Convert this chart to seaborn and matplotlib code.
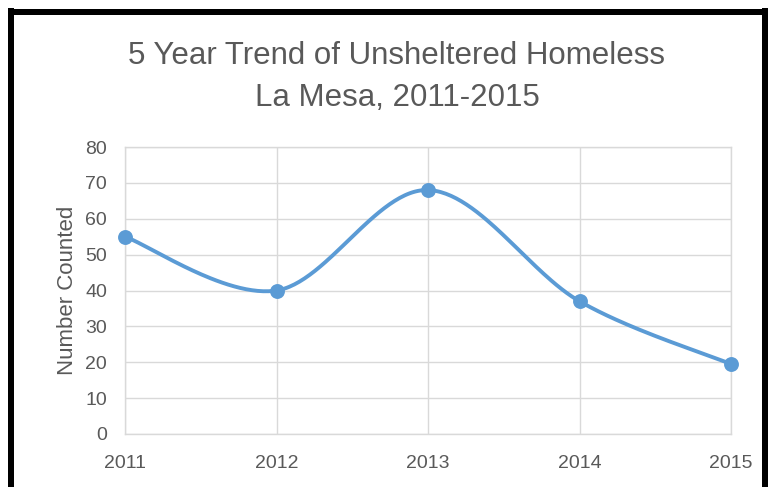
import numpy as np
import pandas as pd
import matplotlib
matplotlib.use("Agg")
import matplotlib.pyplot as plt
from matplotlib.lines import Line2D
import seaborn as sns

years = [2011, 2012, 2013, 2014, 2015]
counts = [55, 40, 68, 37, 19.5]
y_ticks = [0, 10, 20, 30, 40, 50, 60, 70, 80]
title_lines = ["5 Year Trend of Unsheltered Homeless", "La Mesa, 2011-2015"]
y_label = "Number Counted"

sns.set_theme(style="white")
plt.rcParams['font.family'] = ['Liberation Sans', 'DejaVu Sans']

TXT = "#595959"
LINE = "#5b9bd5"
GRID = "#d9d9d9"

# Smooth curve (Excel-like Catmull-Rom Bezier) computed from the data
def smooth(xs, ys, n=60):
    P = np.column_stack([xs, ys]).astype(float)
    P = np.vstack([P[0], P, P[-1]])
    out = []
    for i in range(1, len(P) - 2):
        p0, p1, p2, p3 = P[i - 1], P[i], P[i + 1], P[i + 2]
        b1 = p1 + (p2 - p0) / 6.0
        b2 = p2 - (p3 - p1) / 6.0
        t = np.linspace(0, 1, n)[:, None]
        seg = ((1 - t) ** 3) * p1 + 3 * ((1 - t) ** 2) * t * b1 + 3 * (1 - t) * t ** 2 * b2 + t ** 3 * p2
        out.append(seg if i == 1 else seg[1:])
    out = np.vstack(out)
    return out[:, 0], out[:, 1]

sx, sy = smooth(years, counts)
curve = pd.DataFrame({"year": sx, "count": sy})
pts = pd.DataFrame({"year": years, "count": counts})

fig = plt.figure(figsize=(7.69, 4.87), dpi=100)
ax = fig.add_axes([125 / 769, 1 - 434 / 487, (731 - 125) / 769, (434 - 147) / 487])

sns.lineplot(data=curve, x="year", y="count", ax=ax, color=LINE, linewidth=2.8,
             sort=False, estimator=None)
sns.scatterplot(data=pts, x="year", y="count", ax=ax, color=LINE, s=115,
                edgecolor=LINE, linewidth=0, zorder=5)

ax.set_xlim(years[0], years[-1])
ax.set_ylim(y_ticks[0], y_ticks[-1])
ax.set_xticks(years)
ax.set_xticklabels([str(y) for y in years])
ax.set_yticks(y_ticks)
ax.grid(True, color=GRID, linewidth=1.0)
ax.set_axisbelow(True)
for s in ax.spines.values():
    s.set_color(GRID)
    s.set_linewidth(1.0)
ax.tick_params(axis='both', length=0, labelsize=14, colors=TXT)
ax.tick_params(axis='x', pad=15)
ax.tick_params(axis='y', pad=13)
ax.set_xlabel("")
ax.set_ylabel(y_label, fontsize=16, color=TXT, labelpad=5)
for c in ax.collections:
    c.set_clip_on(False)

fig.text(397 / 769, 1 - 56 / 487, title_lines[0], ha='center', va='center', fontsize=22.5, color=TXT)
fig.text(397 / 769, 1 - 98 / 487, title_lines[1], ha='center', va='center', fontsize=22.5, color=TXT)

# Thick black frame (bottom cut off)
lw = 6 * 72 / 100
fig.add_artist(Line2D([10.5 / 769, 10.5 / 769], [-0.05, 1 - 8 / 487], color='black', linewidth=lw,
                      transform=fig.transFigure, solid_capstyle='butt'))
fig.add_artist(Line2D([7.5 / 769, 767.5 / 769], [1 - 11.5 / 487, 1 - 11.5 / 487], color='black', linewidth=lw,
                      transform=fig.transFigure, solid_capstyle='butt'))
fig.add_artist(Line2D([764.5 / 769, 764.5 / 769], [-0.05, 1 - 8 / 487], color='black', linewidth=lw,
                      transform=fig.transFigure, solid_capstyle='butt'))

fig.savefig("out.png", dpi=100)
